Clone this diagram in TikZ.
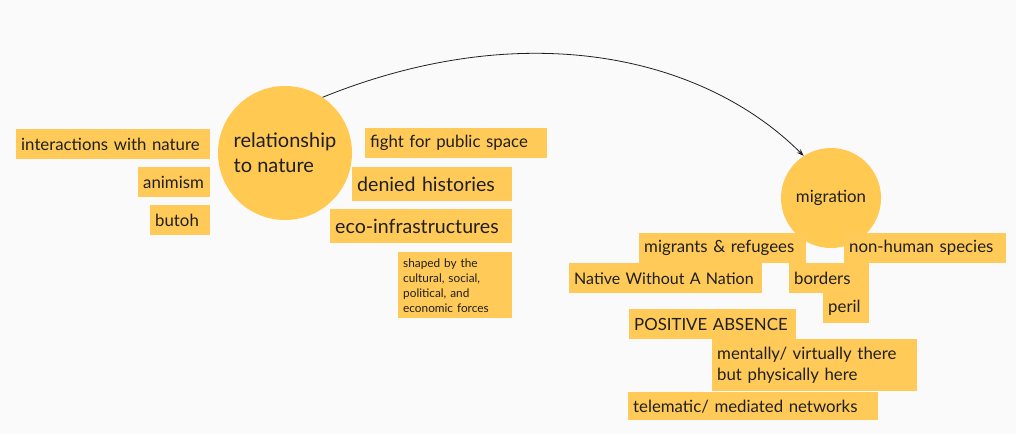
\documentclass[tikz,border=0pt]{standalone}
\usepackage{fontspec}
\setmainfont{Lato}
\usepackage{tikz}
\usetikzlibrary{arrows.meta}
\definecolor{sticky}{HTML}{FFCA58}
\definecolor{bubble}{HTML}{FFC952}
\definecolor{paper}{HTML}{FAFAFA}
\definecolor{ink}{HTML}{1F1F1F}

\begin{document}
\begin{tikzpicture}[x=1pt,y=-1pt,
  tag/.style n args={4}{fill=sticky,text=ink,anchor=north west,inner xsep=5pt,inner ysep=0pt,text width=#1pt,minimum height=#2pt,align=left,font=\fontsize{#3}{#4}\selectfont},
  topic/.style n args={2}{circle,fill=bubble,text=ink,inner sep=0pt,minimum size=#1pt,align=left,font=\fontsize{#2}{25}\selectfont}]
\useasboundingbox (0,0) rectangle (1016,434);
\fill[paper] (0,0) rectangle (1016,434);
\node[topic={134}{20}] (nature) at (285,153) {relationship\\to nature};
\node[topic={100}{16.8}] (migr) at (831,198) {migration};
\foreach \n/\x/\y/\w/\s/\t in %
{ixn/16/129/184/16.8/interactions with nature,anim/138/167/62/16.8/animism,butoh/150/205/50/16.8/butoh,
 fight/365/128/172/16.8/fight for public space,mig/639/233/157/16.8/migrants \& refugees,
 nonhum/844/233/152/16.8/non-human species,native/569/263/183/16/Native Without A Nation,
 borders/789/263/70/16.8/borders,peril/823/293/36/16.8/peril,pos/629/309/157/16.8/POSITIVE ABSENCE} {
   \node[tag={\w}{30}{\s}{18}] (\n) at (\x,\y) {\mbox{\t}};
}
\node[tag={150}{34}{19.6}{21}] (denied) at (352,167) {denied histories};
\node[tag={172}{34}{19.6}{21}] (eco) at (330,209) {eco-infrastructures};
\node[tag={104}{66}{11.8}{15}] (shaped) at (398,252) {shaped by the\\cultural, social,\\political, and\\economic forces};
\node[tag={195}{52}{16.8}{21}] (mental) at (712,339) {mentally/ virtually there\\but physically here};
\node[tag={240}{28}{16.8}{18}] (tele) at (628,392) {telematic/ mediated networks};
\draw[ink,line width=0.8pt,-{Stealth[length=7pt,width=5pt]}] (nature.56) .. controls +(204,-82.5) and +(-99,-99) .. (migr.123);
\end{tikzpicture}
\end{document}
